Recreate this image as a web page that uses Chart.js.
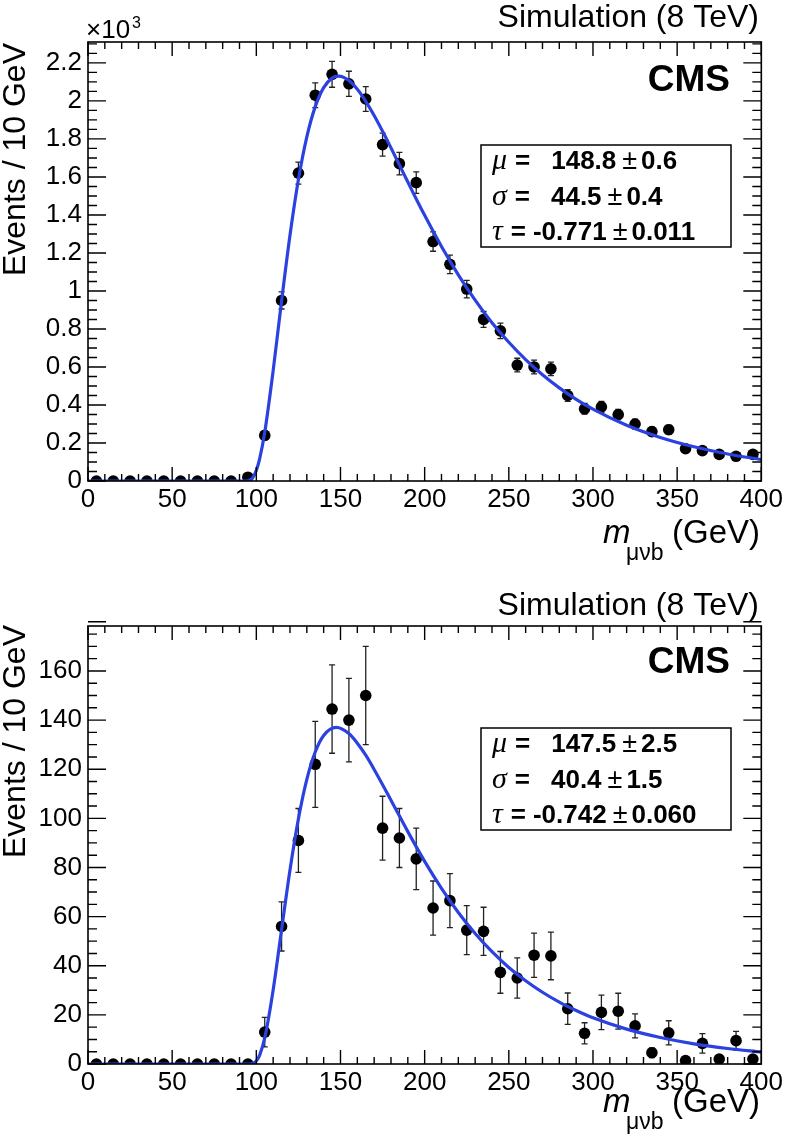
<!DOCTYPE html>
<html>
<head>
<meta charset="utf-8">
<script src="https://cdn.jsdelivr.net/npm/chart.js@4"></script>
<style>
  html, body { margin: 0; padding: 0; background: #fff; }
  canvas { display: block; }
</style>
</head>
<body>
<canvas id="topChart" width="786" height="570"></canvas>
<canvas id="bottomChart" width="786" height="570"></canvas>
<script>
// bin centres (GeV), 10 GeV bins
const binCenters = [5, 15, 25, 35, 45, 55, 65, 75, 85, 95,
  105, 115, 125, 135, 145, 155, 165, 175, 185, 195,
  205, 215, 225, 235, 245, 255, 265, 275, 285, 295,
  305, 315, 325, 335, 345, 355, 365, 375, 385, 395];

// top panel: events / 10 GeV in units of 10^3
const topValues = [0, 0, 0, 0, 0, 0, 0, 0, 0, 0.02,
  0.24, 0.95, 1.62, 2.03, 2.14, 2.09, 2.01, 1.77, 1.67, 1.57,
  1.26, 1.14, 1.01, 0.85, 0.79, 0.61, 0.60, 0.59, 0.45, 0.38,
  0.39, 0.35, 0.30, 0.26, 0.27, 0.17, 0.16, 0.14, 0.13, 0.14];
const topErrors = [0, 0, 0, 0, 0, 0, 0, 0, 0, 0.005,
  0.022, 0.045, 0.058, 0.065, 0.068, 0.066, 0.065, 0.061, 0.059, 0.057,
  0.051, 0.049, 0.046, 0.042, 0.041, 0.036, 0.036, 0.035, 0.031, 0.028,
  0.029, 0.027, 0.025, 0.023, 0.024, 0.019, 0.018, 0.017, 0.016, 0.017];

// top panel fit curve
const topCurveX = [0, 94, 96, 98, 100, 102, 105, 110, 115, 120, 125, 130, 135, 140, 145, 149,
  155, 160, 165, 170, 175, 180, 185, 190, 195, 200, 210, 220, 230, 240, 250, 260, 270,
  280, 290, 300, 320, 340, 360, 380, 400];
const topCurveY = [0, 0, 0.004, 0.019, 0.056, 0.118, 0.257, 0.581, 0.947, 1.293, 1.586, 1.811,
  1.970, 2.070, 2.120, 2.130, 2.107, 2.061, 1.998, 1.923, 1.840, 1.753, 1.663, 1.573, 1.484,
  1.398, 1.234, 1.085, 0.952, 0.833, 0.730, 0.639, 0.559, 0.490, 0.430, 0.378, 0.293, 0.229,
  0.180, 0.142, 0.113];

// bottom panel: events / 10 GeV
const bottomValues = [0, 0, 0, 0, 0, 0, 0, 0, 0, 0,
  13, 56, 91, 122, 144.5, 140, 150, 96, 92, 83.5,
  63.5, 66.5, 54.5, 54, 37.3, 35, 44.3, 44, 22.5, 12.5,
  21, 21.5, 15.5, 4.6, 12.7, 1.4, 8.4, 2, 9.5, 2];
const bottomErrors = [0, 0, 0, 0, 0, 0, 0, 0, 0, 0,
  6, 10, 13, 17.5, 18, 17, 20, 13, 12, 12.5,
  11, 11, 10, 9.8, 8.5, 8.2, 9, 9.7, 6.4, 4.3,
  7, 7.3, 4.9, 2, 4.9, 1, 4, 1, 3.8, 1];

const bottomCurveX = [0, 95, 96, 98, 100, 102, 105, 110, 115, 120, 125, 130, 135, 140, 147.5,
  155, 160, 165, 170, 180, 190, 200, 210, 220, 230, 240, 250, 260, 270, 280, 290, 300,
  320, 340, 360, 380, 400];
const bottomCurveY = [0, 0, 0.01, 0.23, 1.22, 3.64, 10.6, 30.1, 54.7, 79.0, 99.8, 115.9, 127.0,
  133.7, 137.0, 134.5, 130.6, 125.7, 119.9, 107.4, 94.6, 82.5, 71.5, 61.7, 53.1, 45.7, 39.3,
  33.9, 29.2, 25.2, 21.8, 18.8, 14.2, 10.8, 8.2, 6.3, 4.9];

// axis ticks
const xTicks = [0, 50, 100, 150, 200, 250, 300, 350, 400];
const topYTicks = [0, 0.2, 0.4, 0.6, 0.8, 1, 1.2, 1.4, 1.6, 1.8, 2, 2.2];
const bottomYTicks = [0, 20, 40, 60, 80, 100, 120, 140, 160];

// fit results shown in the boxes
const fitSymbols = ["μ", "σ", "τ"];
const topFitValues = ["148.8", "44.5", "-0.771"];
const topFitErrors = ["0.6", "0.4", "0.011"];
const bottomFitValues = ["147.5", "40.4", "-0.742"];
const bottomFitErrors = ["2.5", "1.5", "0.060"];

const SANS = "'Liberation Sans', Arial, Helvetica, sans-serif";
const SERIF = "'Liberation Serif', 'Times New Roman', serif";
const CURVE_BLUE = "#2c42e0";

const rootStyle = {
    id: "rootStyle",
    beforeDatasetsDraw(chart, args, o) {
        // vertical error bars
        const ctx = chart.ctx;
        const xs = chart.scales.x, ys = chart.scales.y;
        ctx.save();
        ctx.strokeStyle = "#222";
        ctx.lineWidth = 1.3;
        o.values.forEach((v, i) => {
            const e = o.errors[i];
            if (!e) return;
            const px = xs.getPixelForValue(binCenters[i]);
            const y1 = ys.getPixelForValue(v - e);
            const y2 = ys.getPixelForValue(v + e);
            ctx.beginPath();
            ctx.moveTo(px, y1); ctx.lineTo(px, y2);
            ctx.moveTo(px - 3, y1); ctx.lineTo(px + 3, y1);
            ctx.moveTo(px - 3, y2); ctx.lineTo(px + 3, y2);
            ctx.stroke();
        });
        ctx.restore();
    },
    afterDraw(chart, args, o) {
        const ctx = chart.ctx;
        const a = chart.chartArea;
        const xs = chart.scales.x, ys = chart.scales.y;
        ctx.save();
        ctx.strokeStyle = "#000";
        ctx.lineWidth = 1.4;

        // ticks on all four sides, pointing inwards
        ctx.beginPath();
        for (let v = 0; v <= 400 + 1e-6; v += 10) {
            const len = v % 50 === 0 ? 14 : 7;
            const px = xs.getPixelForValue(v);
            ctx.moveTo(px, a.bottom); ctx.lineTo(px, a.bottom - len);
            ctx.moveTo(px, a.top); ctx.lineTo(px, a.top + len);
        }
        const nMinor = Math.round(ys.max / o.yMinor);
        for (let k = 0; k <= nMinor; k++) {
            const v = k * o.yMinor;
            const len = k % 4 === 0 ? 18 : 9;
            const py = ys.getPixelForValue(v);
            ctx.moveTo(a.left, py); ctx.lineTo(a.left + len, py);
            ctx.moveTo(a.right, py); ctx.lineTo(a.right - len, py);
        }
        ctx.stroke();
        ctx.lineWidth = 1.6;
        ctx.strokeRect(a.left, a.top, a.right - a.left, a.bottom - a.top);

        ctx.fillStyle = "#000";
        ctx.textBaseline = "alphabetic";

        // y axis title
        ctx.save();
        ctx.translate(25, o.yTitleEnd);
        ctx.rotate(-Math.PI / 2);
        ctx.textAlign = "right";
        ctx.font = "32px " + SANS;
        ctx.fillText("Events / 10 GeV", 0, 0);
        ctx.restore();

        // x axis title
        ctx.textAlign = "right";
        ctx.font = "33px " + SANS;
        ctx.fillText("(GeV)", 760, o.xTitleBase);
        ctx.textAlign = "left";
        ctx.font = "italic 33px " + SANS;
        ctx.fillText("m", 603, o.xTitleBase);
        ctx.font = "23px " + SANS;
        ctx.fillText("μνb", 626, o.xTitleBase + 17);

        // header
        ctx.textAlign = "right";
        ctx.font = "32px " + SANS;
        ctx.fillText("Simulation (8 TeV)", 759, o.simBase);
        ctx.font = "bold 37px " + SANS;
        ctx.fillText("CMS", 730, o.cmsBase);

        if (o.exponent) {
            ctx.textAlign = "left";
            ctx.font = "26px " + SANS;
            ctx.fillText("×10", 86, 38);
            ctx.font = "16px " + SANS;
            ctx.fillText("3", 132, 28);
        }

        // fit result box
        ctx.lineWidth = 1.5;
        ctx.strokeRect(481, o.boxTop, 250, 102);
        ctx.textAlign = "left";
        fitSymbols.forEach((sym, i) => {
            const base = o.boxTop + 24 + i * 35.5;
            let x = 492;
            ctx.font = "italic 30px " + SERIF;
            ctx.fillText(sym, x, base);
            x += ctx.measureText(sym).width + 8;
            ctx.font = "bold 26px " + SANS;
            ctx.fillText("=", x, base);
            x += ctx.measureText("=").width;
            const val = o.fitValues[i];
            x += val.startsWith("-") ? 7 : 21;
            ctx.fillText(val, x, base);
            x += ctx.measureText(val).width + 6;
            ctx.font = "27px " + SANS;
            ctx.fillText("±", x, base);
            x += ctx.measureText("±").width + 4;
            ctx.font = "bold 26px " + SANS;
            ctx.fillText(o.fitErrors[i], x, base);
        });
        ctx.restore();
    },
};

function makePanel(canvasId, p) {
    const ctx = document.getElementById(canvasId).getContext("2d");
    return new Chart(ctx, {
        type: "scatter",
        data: {
            datasets: [
                {
                    label: "fit",
                    data: p.curveX.map((x, i) => ({ x: x, y: p.curveY[i] })),
                    showLine: true,
                    borderColor: CURVE_BLUE,
                    borderWidth: 3.2,
                    pointRadius: 0,
                    cubicInterpolationMode: "monotone",
                },
                {
                    label: "simulation",
                    data: binCenters.map((x, i) => ({ x: x, y: p.values[i] })),
                    pointRadius: 5.8,
                    pointBackgroundColor: "#000",
                    pointBorderColor: "#000",
                    pointBorderWidth: 0,
                },
            ],
        },
        options: {
            responsive: false,
            animation: false,
            devicePixelRatio: 1,
            layout: { padding: { top: p.plotTop, right: 24, left: 0, bottom: 0 } },
            plugins: {
                legend: { display: false },
                tooltip: { enabled: false },
                rootStyle: {
                    values: p.values,
                    errors: p.errors,
                    yMinor: p.yMinor,
                    yTitleEnd: p.yTitleEnd,
                    xTitleBase: p.xTitleBase,
                    simBase: p.simBase,
                    cmsBase: p.cmsBase,
                    boxTop: p.boxTop,
                    exponent: p.exponent,
                    fitValues: p.fitValues,
                    fitErrors: p.fitErrors,
                },
            },
            scales: {
                x: {
                    type: "linear",
                    min: 0,
                    max: 400,
                    grid: { display: false, drawTicks: false },
                    border: { display: false },
                    afterBuildTicks: (s) => { s.ticks = xTicks.map((v) => ({ value: v })); },
                    afterFit: (s) => { s.height = p.xAxisHeight; },
                    ticks: {
                        autoSkip: false,
                        maxRotation: 0,
                        padding: 3,
                        color: "#000",
                        font: { family: SANS, size: 26 },
                        callback: (v) => String(v),
                    },
                },
                y: {
                    type: "linear",
                    min: 0,
                    max: p.yMax,
                    grid: { display: false, drawTicks: false },
                    border: { display: false },
                    afterBuildTicks: (s) => { s.ticks = p.yTicks.map((v) => ({ value: v })); },
                    afterFit: (s) => { s.width = 88; },
                    ticks: {
                        autoSkip: false,
                        padding: 6,
                        color: "#000",
                        font: { family: SANS, size: 26 },
                        callback: (v) => String(v),
                    },
                },
            },
        },
        plugins: [rootStyle],
    });
}

document.addEventListener("DOMContentLoaded", () => {
    makePanel("topChart", {
        values: topValues, errors: topErrors,
        curveX: topCurveX, curveY: topCurveY,
        yTicks: topYTicks, yMax: 2.31, yMinor: 0.05,
        plotTop: 42, xAxisHeight: 89,
        yTitleEnd: 43, xTitleBase: 543, simBase: 27, cmsBase: 91, boxTop: 145,
        exponent: true,
        fitValues: topFitValues, fitErrors: topFitErrors,
    });
    makePanel("bottomChart", {
        values: bottomValues, errors: bottomErrors,
        curveX: bottomCurveX, curveY: bottomCurveY,
        yTicks: bottomYTicks, yMax: 178.3, yMinor: 5,
        plotTop: 56, xAxisHeight: 76,
        yTitleEnd: 55, xTitleBase: 542, simBase: 45, cmsBase: 103, boxTop: 158,
        exponent: false,
        fitValues: bottomFitValues, fitErrors: bottomFitErrors,
    });
});
</script>
</body>
</html>
